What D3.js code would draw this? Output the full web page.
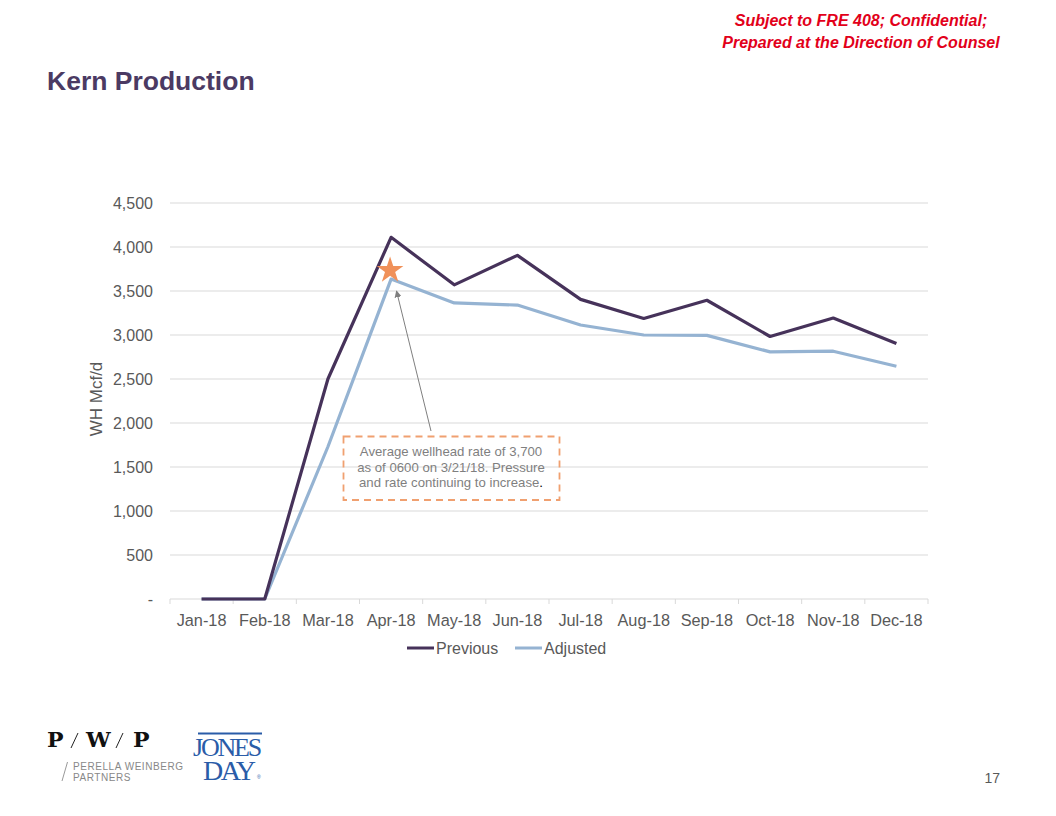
<!DOCTYPE html>
<html><head><meta charset="utf-8">
<script src="https://cdn.jsdelivr.net/npm/d3@7"></script>
<style>body{margin:0;background:#fff}svg{display:block}</style>
</head><body>
<script>
const categories = ["Jan-18","Feb-18","Mar-18","Apr-18","May-18","Jun-18","Jul-18","Aug-18","Sep-18","Oct-18","Nov-18","Dec-18"];
const previous = [0,0,2500,4110,3570,3905,3405,3188,3395,2983,3193,2903];
const adjusted = [0,0,1730,3635,3365,3340,3114,3000,2996,2808,2816,2645];
const yTicks = [0,500,1000,1500,2000,2500,3000,3500,4000,4500];
const seriesNames = ["Previous","Adjusted"];
const starValue = 3745;

const W=1056,H=816;
const svg=d3.select("body").append("svg").attr("width",W).attr("height",H);
const font="Liberation Sans, Arial, sans-serif";
const colors={Previous:"#46325a",Adjusted:"#95b3d2"};

// header
svg.append("text").attr("x",861).attr("y",26).attr("text-anchor","middle").attr("font-family",font)
 .attr("font-size",16).attr("font-weight","bold").attr("font-style","italic").attr("fill","#e2001a").text("Subject to FRE 408; Confidential;");
svg.append("text").attr("x",861).attr("y",48).attr("text-anchor","middle").attr("font-family",font)
 .attr("font-size",16).attr("font-weight","bold").attr("font-style","italic").attr("fill","#e2001a").text("Prepared at the Direction of Counsel");
svg.append("text").attr("x",47).attr("y",90).attr("font-family",font).attr("font-size",26.5).attr("font-weight","bold")
 .attr("fill","#4b3a63").text("Kern Production");

const x=d3.scaleBand().domain(categories).range([170,928]);
const y=d3.scaleLinear().domain([0,4500]).range([599,203]);

// grid
svg.append("g").selectAll("line").data(yTicks.filter(d=>d>0)).join("line")
 .attr("x1",170).attr("x2",928).attr("y1",d=>y(d)).attr("y2",d=>y(d)).attr("stroke","#d9d9d9").attr("stroke-width",1.2);

// y axis labels
const yAxis=d3.axisLeft(y).tickValues(yTicks).tickSize(0).tickPadding(17)
 .tickFormat(d=>d===0?"-":d3.format(",")(d));
const ya=svg.append("g").attr("transform","translate(170,0)").call(yAxis);
ya.select(".domain").remove();
ya.selectAll("text").attr("font-family",font).attr("font-size",16).attr("fill","#595959");

// x axis
const xa=svg.append("g").attr("transform","translate(0,599)");
xa.append("line").attr("x1",170).attr("x2",928).attr("stroke","#d9d9d9").attr("stroke-width",1.2);
const bounds=categories.map(c=>x(c)).concat([928]);
xa.selectAll("line.t").data(bounds).join("line").attr("class","t").attr("x1",d=>d).attr("x2",d=>d).attr("y1",0).attr("y2",5).attr("stroke","#d9d9d9");
xa.selectAll("text").data(categories).join("text").attr("x",d=>x(d)+x.bandwidth()/2).attr("y",27)
 .attr("text-anchor","middle").attr("font-family",font).attr("font-size",16.3).attr("fill","#595959").text(d=>d);

// y title
svg.append("text").attr("transform","translate(102,399) rotate(-90)").attr("text-anchor","middle").attr("font-family",font)
 .attr("font-size",17).attr("fill","#595959").text("WH Mcf/d");

const line=d3.line().x((d,i)=>x(categories[i])+x.bandwidth()/2).y(d=>y(d));
svg.append("path").datum(adjusted).attr("d",line).attr("fill","none").attr("stroke",colors.Adjusted).attr("stroke-width",3.2).attr("stroke-linejoin","round");
svg.append("path").datum(previous).attr("d",line).attr("fill","none").attr("stroke",colors.Previous).attr("stroke-width",3.2).attr("stroke-linejoin","round");

// star
const sx=x("Apr-18")+x.bandwidth()/2-1, sy=y(starValue);
svg.append("path").attr("d",d3.symbol(d3.symbolStar,220)()).attr("transform",`translate(${sx},${sy+1})`).attr("fill","#f0915a");

// arrow
svg.append("defs").append("marker").attr("id","ah").attr("viewBox","0 0 10 10").attr("refX",9).attr("refY",5)
 .attr("markerWidth",7).attr("markerHeight",7).attr("orient","auto").append("path").attr("d","M0,0L10,5L0,10z").attr("fill","#7f7f7f");
svg.append("line").attr("x1",431).attr("y1",431).attr("x2",396.5).attr("y2",291).attr("stroke","#7f7f7f").attr("stroke-width",1).attr("marker-end","url(#ah)");

// annotation box
svg.append("rect").attr("x",343.5).attr("y",436.5).attr("width",216).attr("height",63.5).attr("fill","none")
 .attr("stroke","#f0a070").attr("stroke-width",1.8).attr("stroke-dasharray","7,5");
const ann=["Average wellhead rate of 3,700","as of 0600 on 3/21/18. Pressure","and rate continuing to increase"];
const at=svg.append("g").selectAll("text").data(ann).join("text").attr("x",451).attr("y",(d,i)=>456+i*15.5).attr("text-anchor","middle")
 .attr("font-family",font).attr("font-size",13.2).attr("fill","#7f7f7f");
at.append("tspan").text(d=>d);
at.filter((d,i)=>i===2).append("tspan").attr("fill","#000").text(".");

// legend
const lg=svg.append("g");
[[407,seriesNames[0]],[515,seriesNames[1]]].forEach(([lx,n])=>{
 lg.append("line").attr("x1",lx).attr("x2",lx+27).attr("y1",648).attr("y2",648).attr("stroke",colors[n]).attr("stroke-width",3);
 lg.append("text").attr("x",lx+29).attr("y",654).attr("font-family",font).attr("font-size",16).attr("fill","#595959").text(n);
});

// logos
const pw=svg.append("g");
const serif="DejaVu Serif, Liberation Serif, serif";
[[47,"P"],[86,"W"],[133,"P"]].forEach(([lx,t])=>{
 pw.append("text").attr("x",lx).attr("y",747).attr("font-family",serif).attr("font-size",20).attr("font-weight","bold").attr("fill","#111")
  .attr("transform",`translate(${lx},0) scale(1.1,1) translate(${-lx},0)`).text(t);
});
[[71,78],[116,123]].forEach(([a,b])=>{
 pw.append("line").attr("x1",a).attr("y1",748).attr("x2",b).attr("y2",733).attr("stroke","#222").attr("stroke-width",1);
});
pw.append("line").attr("x1",62).attr("y1",781).attr("x2",67.5).attr("y2",762).attr("stroke","#999").attr("stroke-width",1);
pw.append("text").attr("x",73).attr("y",770).attr("font-family",font).attr("font-size",10).attr("fill","#888").attr("letter-spacing",0.55).text("PERELLA WEINBERG");
pw.append("text").attr("x",73).attr("y",781).attr("font-family",font).attr("font-size",10).attr("fill","#888").attr("letter-spacing",0.55).text("PARTNERS");
const jd=svg.append("g");
jd.append("text").attr("x",193).attr("y",756).attr("font-family","Liberation Serif, serif").attr("font-size",26).attr("fill","#2a5ca8").attr("letter-spacing",-2.2).text("JONES");
jd.append("text").attr("x",203).attr("y",780).attr("font-family","Liberation Serif, serif").attr("font-size",28).attr("fill","#2a5ca8").attr("letter-spacing",-2.5).text("DAY");
jd.append("line").attr("x1",198).attr("x2",262).attr("y1",733.5).attr("y2",733.5).attr("stroke","#2a5ca8").attr("stroke-width",2);
jd.append("text").attr("x",257).attr("y",779).attr("font-family",font).attr("font-size",5).attr("fill","#2a5ca8").text("®");

svg.append("text").attr("x",1000).attr("y",783).attr("text-anchor","end").attr("font-family",font).attr("font-size",14).attr("fill","#595959").text("17");
</script>
</body></html>
